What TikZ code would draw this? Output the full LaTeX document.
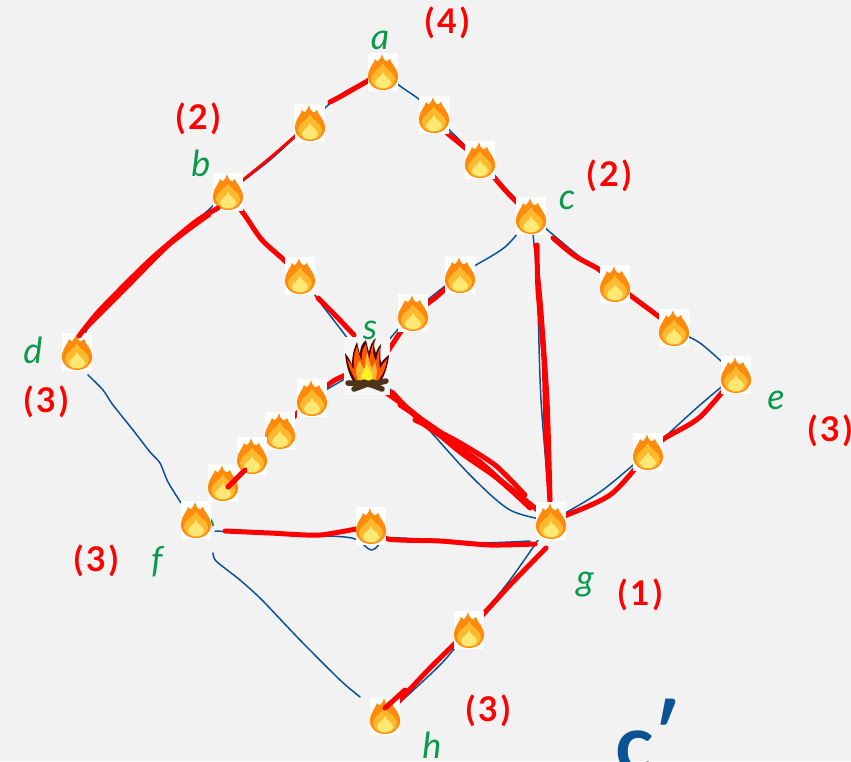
\documentclass[tikz,border=0pt]{standalone}
\usepackage{fontspec}
\setmainfont{Lato}
\definecolor{bg}{HTML}{F2F2F2}
\definecolor{inkblue}{HTML}{0B5394}
\definecolor{inkred}{HTML}{FF0000}
\definecolor{inkgreen}{HTML}{0A9A4A}
\definecolor{fo}{HTML}{FF8A0C}
\definecolor{fy}{HTML}{FFB92E}
\definecolor{fl}{HTML}{FFE873}
\newcommand{\pn}[1]{(\kern3pt #1\kern3pt)}
\tikzset{
  x=1pt,y=-1pt,
  bluepen/.style={draw=inkblue,line width=1.5pt,line cap=round,line join=round},
  redpen/.style={draw=inkred,line width=5pt,line cap=round,line join=round},
  redthin/.style={draw=inkred,line width=3pt,line cap=round,line join=round},
  gl/.style={text=inkgreen,font=\fontsize{36}{36}\selectfont\itshape,inner sep=0pt},
  rl/.style={text=inkred,font=\fontsize{34}{34}\selectfont\bfseries,inner sep=0pt},
  flame/.pic={
    \fill[white] (-15,-19) rectangle (15,19);
    \fill[fo] (-1,-18) .. controls (0,-12) and (4,-8) .. (7,-13) .. controls (8,-8) and (15,-4) .. (15,5)
      .. controls (15,13) and (8,18) .. (0,18) .. controls (-8,18) and (-15,13) .. (-15,5)
      .. controls (-15,-4) and (-9,-8) .. (-8,-13) .. controls (-6,-9) and (-3,-11) .. (-1,-18) -- cycle;
    \fill[fy] (0,-9) .. controls (1,-3) and (11,-1) .. (12,7) .. controls (12,13) and (6,17) .. (0,17)
      .. controls (-6,17) and (-12,13) .. (-12,7) .. controls (-11,-1) and (-2,-3) .. (0,-9) -- cycle;
    \fill[fl] (0,0) .. controls (1,5) and (8,6) .. (8,11) .. controls (7,15) and (4,16) .. (0,16)
      .. controls (-4,16) and (-7,15) .. (-8,11) .. controls (-8,6) and (-1,5) .. (0,0) -- cycle;
  },
  campfire/.pic={
    \fill[bg!70!white] (-23,-29) rectangle (23,29);
    \fill[black!70!red] (-12,18) .. controls (-19,8) and (-21,-2) .. (-22,-13) .. controls (-18,-8) and (-16,-4) .. (-15,-1)
      .. controls (-15,-10) and (-13,-18) .. (-10,-24) .. controls (-9,-19) and (-8,-15) .. (-7,-12)
      .. controls (-7,-18) and (-5,-23) .. (-1,-26) .. controls (0,-21) and (1,-17) .. (2,-14)
      .. controls (3,-20) and (5,-25) .. (9,-28) .. controls (6,-22) and (7,-18) .. (9,-13)
      .. controls (10,-17) and (12,-20) .. (14,-22) .. controls (13,-14) and (13,-8) .. (14,-3)
      .. controls (16,-6) and (19,-9) .. (22,-11) .. controls (21,-1) and (18,10) .. (12,18) -- cycle;
    \fill[orange!70!red] (-10,16) .. controls (-16,7) and (-18,1) .. (-20,-7) .. controls (-16,-3) and (-15,1) .. (-13,4)
      .. controls (-14,-8) and (-12,-15) .. (-10,-20) .. controls (-8,-12) and (-7,-8) .. (-5,-5)
      .. controls (-6,-12) and (-4,-19) .. (-1,-22) .. controls (0,-15) and (1,-10) .. (3,-7)
      .. controls (3,-15) and (5,-20) .. (7,-24) .. controls (5,-15) and (6,-10) .. (9,-5)
      .. controls (10,-10) and (11,-15) .. (13,-18) .. controls (12,-9) and (12,-3) .. (13,3)
      .. controls (15,-1) and (17,-4) .. (20,-7) .. controls (19,2) and (16,9) .. (10,16) -- cycle;
    \fill[fy] (-9,14) .. controls (-13,6) and (-10,-3) .. (-7,-6) .. controls (-6,-1) and (-4,2) .. (-2,3)
      .. controls (-3,-5) and (-1,-10) .. (1,-14) .. controls (1,-6) and (3,-2) .. (5,2)
      .. controls (6,0) and (7,-2) .. (8,-4) .. controls (10,2) and (11,8) .. (8,14) -- cycle;
    \fill[yellow!85!white] (-5,15) .. controls (-7,8) and (-2,4) .. (0,-2) .. controls (2,4) and (7,8) .. (5,15) -- cycle;
    \draw[brown!40!black,line width=5.5pt,line cap=round] (-19,17) -- (-3,17) (3,19) -- (19,15) (-13,23) -- (6,16) (-3,16) -- (15,23);
  }
}
\begin{document}
\begin{tikzpicture}
\useasboundingbox (0,0) rectangle (851,761);
\fill[bg] (0,0) rectangle (851,761);
\foreach \n/\p in {a/{383,72},ab/{310,123},b/{228,192},ac/{434,115},acb/{480,160},c/{531,216},d/{77,352},bs/{300,276},
  csa/{460,275},csb/{413,313},cea/{615,284},ceb/{674,328},e/{736,375},eg/{648,452},g/{551,521},
  sfa/{312,398},sfb/{280,431},sfc/{252,456},sfd/{223,483},f/{196,520},fg/{371,526},gh/{469,630},h/{385,716},s/{367,366}}
  {\coordinate (\n) at (\p);}
% blue pencil graph
\draw[bluepen] plot[smooth,tension=.5] coordinates {(a) (340,95) (ab) (270,160) (b)};
\draw[bluepen] plot[smooth,tension=.5] coordinates {(a) (400,86) (420,100) (ac)};
\draw[bluepen] (ac) -- (acb) -- (c);
\draw[bluepen] plot[smooth,tension=.5] coordinates {(b) (170,245) (125,285) (90,325) (d)};
\draw[bluepen] plot[smooth,tension=.4] coordinates {(88,375) (103,390) (113,405) (133,430) (150,452) (160,463) (168,482) (181,503)};
\draw[bluepen] plot[smooth,tension=.4] coordinates {(213,553) (216,561) (240,580) (262,600) (300,640) (340,680) (360,697)};
\draw[bluepen] plot[smooth,tension=.5] coordinates {(b) (262,240) (bs) (322,305) (345,335) (s)};
\draw[bluepen] plot[smooth,tension=.5] coordinates {(c) (505,247) (csa) (csb) (s)};
\draw[bluepen] plot[smooth,tension=.5] coordinates {(c) (575,253) (cea)};
\draw[bluepen] plot[smooth,tension=.5] coordinates {(cea) (ceb) (700,343) (722,362)};
\draw[bluepen] plot[smooth,tension=.5] coordinates {(e) (700,405) (eg) (600,492) (g)};
\draw[bluepen] plot[smooth,tension=.5] coordinates {(c) (537,280) (541,400) (g)};
\draw[bluepen] plot[smooth,tension=.5] coordinates {(s) (420,420) (470,475) (510,510) (g)};
\draw[bluepen] (s) -- (sfa) -- (sfb) -- (sfc) -- (sfd) -- (f);
\draw[bluepen] plot[smooth,tension=.5] coordinates {(215,531) (300,535) (352,538) (372,550) (392,538) (470,543) (530,541)};
\draw[bluepen] plot[smooth,tension=.5] coordinates {(g) (510,580) (gh) (440,665) (h)};
% red marker under the flames
\draw[redpen] plot[smooth,tension=.5] coordinates {(a) (345,94) (330,102)};
\draw[redthin] plot[smooth,tension=.5] coordinates {(ab) (270,158) (b)};
\draw[redpen] plot[smooth,tension=.5] coordinates {(b) (246,217) (262,240) (284,260) (bs)};
\draw[redpen] plot[smooth,tension=.5] coordinates {(318,298) (335,315) (354,335)};
\draw[redpen] (acb) -- (447,133);
\draw[redpen] plot[smooth,tension=.5] coordinates {(acb) (505,190) (c)};
\draw[redpen] plot[smooth,tension=.5] coordinates {(csb) (435,298) (csa)};
\draw[redpen] (csb) -- (388,351);
\draw[redpen] plot[smooth,tension=.5] coordinates {(553,238) (575,256) (600,270) (cea)};
\draw[redpen] plot[smooth,tension=.5] coordinates {(cea) (650,310) (ceb)};
\draw[redpen] plot[smooth,tension=.5] coordinates {(e) (700,417) (665,438) (eg)};
\draw[redpen] plot[smooth,tension=.5] coordinates {(eg) (610,495) (g)};
\draw[redpen] plot[smooth,tension=.4] coordinates {(537,245) (538,290) (544,360) (546,430) (g)};
\draw[redthin] plot[smooth,tension=.4] coordinates {(535,245) (541,300) (548,400) (551,500)};
\draw[redpen] plot[smooth,tension=.4] coordinates {(375,385) (410,410) (460,452) (500,480) (g)};
\draw[redpen] plot[smooth,tension=.4] coordinates {(392,392) (425,425) (480,462) (530,508)};
\draw[redpen] plot[smooth,tension=.4] coordinates {(415,420) (455,440) (495,465) (525,495)};
\draw[redpen] plot[smooth,tension=.4] coordinates {(400,405) (440,432) (485,468) (520,498)};
\draw[redpen] plot[smooth,tension=.4] coordinates {(s) (335,380) (sfa)};
\draw[redpen] (sfa) -- (sfb) -- (sfc) -- (sfd);
\draw[redpen] plot[smooth,tension=.4] coordinates {(225,531) (270,533) (320,535) (fg)};
\draw[redpen] plot[smooth,tension=.4] coordinates {(fg) (388,539) (440,541) (490,545) (535,544)};
\draw[redpen] plot[smooth,tension=.4] coordinates {(546,548) (510,585) (gh)};
\draw[redpen] plot[smooth,tension=.4] coordinates {(gh) (430,668) (h)};
% flames
\draw[inkgreen,line width=2pt] (213,526) arc (0:-90:10);
\foreach \n in {a,ab,b,ac,acb,c,d,bs,csa,csb,cea,ceb,e,eg,g,sfa,sfb,sfc,sfd,f,fg,gh,h}
  {\pic at (\n) {flame};}
\pic at (s) {campfire};
% red strokes over the flames
\draw[redpen] plot[smooth,tension=.4] coordinates {(79,336) (100,310) (150,260) (195,222) (218,208)};
\draw[redthin] plot[smooth,tension=.4] coordinates {(85,330) (125,290) (170,245) (210,215)};
\draw[redpen] (228,487) -- (245,470);
\draw[redpen] (385,708) -- (405,690);
% labels
\node[gl] at (380,40) {a};
\node[gl] at (201,163) {b};
\node[gl] at (567,200) {c};
\node[gl] at (33,350) {d};
\node[gl] at (370,330) {s};
\node[gl] at (776,400) {e};
\node[gl] at (157,562) {f};
\node[gl] at (585,585) {g};
\node[gl] at (432,745) {h};
\node[rl] at (447,23) {\pn{4}};
\node[rl] at (198,119) {\pn{2}};
\node[rl] at (609,176) {\pn{2}};
\node[rl] at (46,402) {\pn{3}};
\node[rl] at (830,431) {\pn{3}};
\node[rl] at (96,561) {\pn{3}};
\node[rl] at (640,595) {\pn{1}};
\node[rl] at (488,711) {\pn{3}};
\node[text=inkblue,font=\fontsize{80}{80}\selectfont\bfseries,inner sep=0pt] at (648,736) {c\raisebox{9pt}{′}};
\end{tikzpicture}
\end{document}
